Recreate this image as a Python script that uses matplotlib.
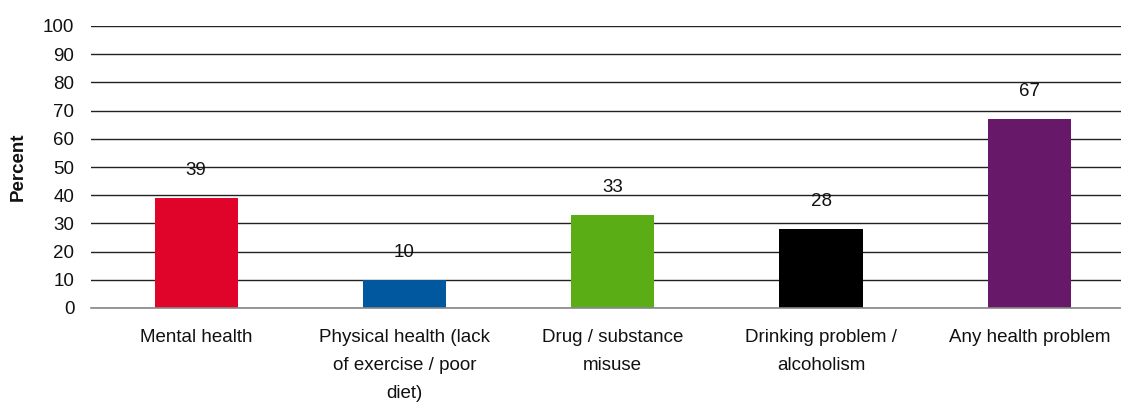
import matplotlib
matplotlib.use("Agg")
import matplotlib.pyplot as plt

categories = ["Mental health", "Physical health (lack\nof exercise / poor\ndiet)",
              "Drug / substance\nmisuse", "Drinking problem /\nalcoholism", "Any health problem"]
values = [39, 10, 33, 28, 67]
colors = ["#E0042B", "#02589F", "#5BAD16", "#000000", "#681868"]
yticks = [0, 10, 20, 30, 40, 50, 60, 70, 80, 90, 100]

plt.rcParams['font.family'] = ['Liberation Sans', 'DejaVu Sans']
fs = 13.5
fig = plt.figure(figsize=(11.21, 4.08), dpi=100)
ax = fig.add_axes([91/1121, 1 - 308/408, 1 - 91/1121, (308 - 26)/408])

x = list(range(len(categories)))
bars = ax.bar(x, values, width=0.40, color=colors, zorder=3)
for xi, v in zip(x, values):
    ax.annotate(str(v), (xi, v), xytext=(0, 20), textcoords='offset points',
                ha='center', va='center', fontsize=fs, color='#111111', zorder=2)

ax.set_ylim(0, 100)
ax.set_xlim(-0.505, 4.44)
ax.set_yticks(yticks)
ax.set_yticklabels([str(t) for t in yticks], fontsize=fs, color='#111111')
ax.set_xticks(x)
ax.set_xticklabels(categories, fontsize=fs, color='#111111', linespacing=1.85, va='top')
ax.tick_params(axis='both', length=0)
ax.tick_params(axis='y', pad=12)
ax.tick_params(axis='x', pad=15)
ax.yaxis.grid(True, color='#222222', linewidth=1.0, zorder=0)
ax.set_axisbelow(True)
for s in ['top', 'right', 'left']:
    ax.spines[s].set_visible(False)
ax.spines['bottom'].set_color('#888888')
ax.spines['bottom'].set_linewidth(1.2)
ax.spines['bottom'].set_zorder(4)
ax.set_ylabel("Percent", fontsize=fs, fontweight='bold', labelpad=12, color='#111111')

fig.savefig("out.png", dpi=100)
